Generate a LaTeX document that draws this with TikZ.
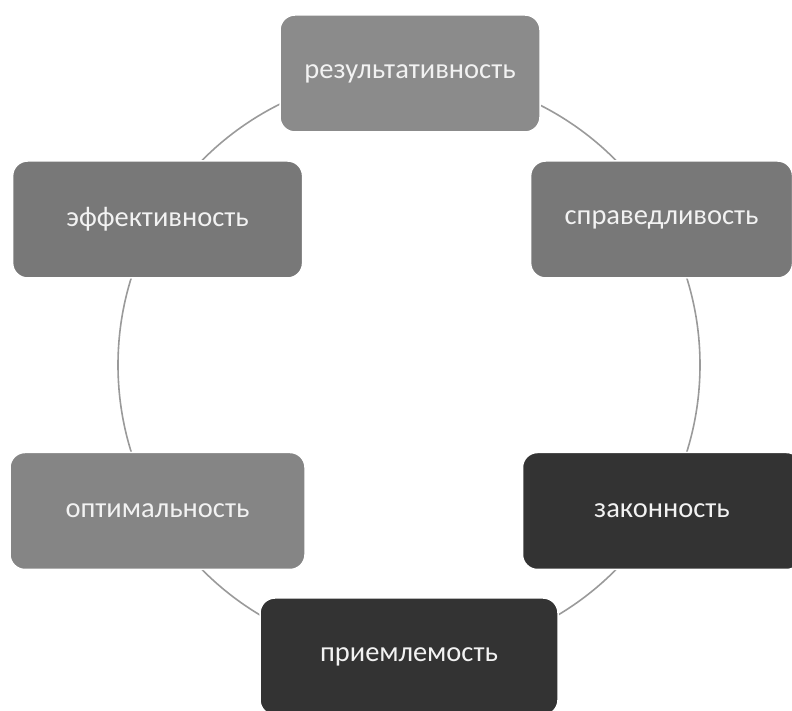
\documentclass[tikz,border=0pt]{standalone}
\usepackage{fontspec}
\setmainfont{Carlito}

\definecolor{ringgray}{HTML}{9A9A9A}
\definecolor{boxA}{HTML}{8B8B8B}
\definecolor{boxB}{HTML}{787878}
\definecolor{boxC}{HTML}{858585}
\definecolor{boxD}{HTML}{333333}

\begin{document}
\begin{tikzpicture}[x=1pt, y=1pt,
    stage/.style={rounded corners=15pt, minimum height=117pt,
        draw=white, line width=1.5pt, text=white!95!black, font=\fontsize{28.5}{34}\selectfont},
    ring/.style={ringgray, line width=1.6pt}]
    \useasboundingbox (0,0) rectangle (792,711);

    % Centre of the cycle and the six stage positions
    \coordinate (O) at (409, 346);
    \coordinate (P1) at (410, 637.5); \coordinate (P2) at (661.6, 491.5); \coordinate (P3) at (662, 200);
    \coordinate (P4) at (409, 54.5);  \coordinate (P5) at (157.5, 200);   \coordinate (P6) at (157.6, 491.5);

    % 1. The ring behind the stages
    \draw[ring] (O) circle (291);

    % 2. Stages (light grey above, dark below)
    \node[stage, fill=boxA, minimum width=260pt] (res) at (P1) {результативность};
    \node[stage, fill=boxB, minimum width=262pt] (spr) at (P2) {справедливость};
    \node[stage, fill=boxD, minimum width=279pt] (zak) at (P3) {законность};
    \node[stage, fill=boxD, minimum width=298pt] (pri) at (P4) {приемлемость};
    \node[stage, fill=boxC, minimum width=295pt] (opt) at (P5) {оптимальность};
    \node[stage, fill=boxB, minimum width=290pt] (eff) at (P6) {эффективность};

\end{tikzpicture}
\end{document}
